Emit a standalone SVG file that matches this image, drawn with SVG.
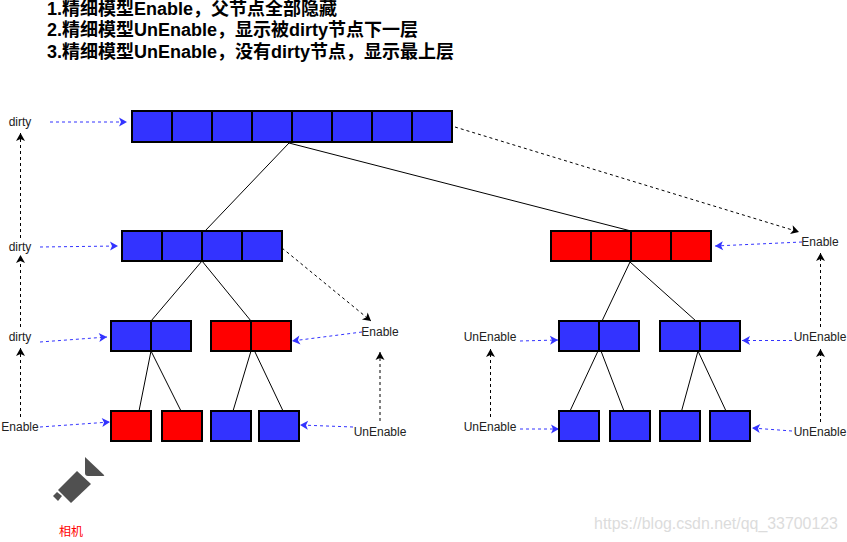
<svg xmlns="http://www.w3.org/2000/svg" width="847" height="542" viewBox="0 0 847 542">
<style>
text{font-family:"Liberation Sans","Noto Sans CJK SC",sans-serif}
.t{font-size:18px;font-weight:bold;fill:#000}
.l{font-size:12px;fill:#222;text-anchor:middle}
.b{fill:#3333ff;stroke:#000;stroke-width:2}
.r{fill:#ff0000;stroke:#000;stroke-width:2}
.e{stroke:#000;stroke-width:1;fill:none}
.k{stroke:#000;stroke-width:1;fill:none;stroke-dasharray:3 3;marker-end:url(#mk)}
.u{stroke:#3333ff;stroke-width:1;fill:none;stroke-dasharray:3 3;marker-end:url(#mb)}
</style>
<defs>
<marker id="mk" markerUnits="userSpaceOnUse" viewBox="0 0 10 10" refX="9" refY="5" markerWidth="10" markerHeight="10" orient="auto"><path d="M1 0.5L9 5L1 9.5L3 5Z" fill="#000"/></marker>
<marker id="mb" markerUnits="userSpaceOnUse" viewBox="0 0 10 10" refX="9" refY="5" markerWidth="10" markerHeight="10" orient="auto"><path d="M1 0.5L9 5L1 9.5L3 5Z" fill="#3333ff"/></marker>
</defs>
<g id="title">
<text class="t" x="47" y="15">1.精细模型Enable，父节点全部隐藏</text>
<text class="t" x="47" y="36">2.精细模型UnEnable，显示被dirty节点下一层</text>
<text class="t" x="47" y="58">3.精细模型UnEnable，没有dirty节点，显示最上层</text>
</g>
<g id="connectors">
<path class="e" d="M289 143L205 231M289 143L631 231M202 261L151 321M202 261L251 321M151 351L139 411M151 351L181 411M251 351L233 411M255 352L284 413M630 262L602 321M630 262L696 321M598 351L570 411M601 351L624 411M698 351L681 413M698 351L726 411"/>
<path class="k" d="M20.5 417V348"/>
<path class="k" d="M20.5 327V255"/>
<path class="k" d="M20.5 238V133"/>
<path class="k" d="M282 248L371 321"/>
<path class="k" d="M455 127L799 232"/>
<path class="k" d="M380 421V352"/>
<path class="k" d="M820.5 422V349"/>
<path class="k" d="M820.5 327V253"/>
<path class="k" d="M490.5 417V349"/>
<path class="u" d="M50 122H127"/>
<path class="u" d="M40 247L118 246"/>
<path class="u" d="M40 342L107 337"/>
<path class="u" d="M40 427L110 422"/>
<path class="u" d="M362 332L292 341"/>
<path class="u" d="M353 427L300 425"/>
<path class="u" d="M802 242L715 246"/>
<path class="u" d="M520 341L558 340"/>
<path class="u" d="M520 429H559"/>
<path class="u" d="M792 340.500H742"/>
<path class="u" d="M792 431L752 428"/>
</g>
<g id="node-top">
<rect class="b" x="132" y="111" width="40" height="31"/><rect class="b" x="172" y="111" width="40" height="31"/><rect class="b" x="212" y="111" width="40" height="31"/><rect class="b" x="252" y="111" width="40" height="31"/><rect class="b" x="292" y="111" width="40" height="31"/><rect class="b" x="332" y="111" width="40" height="31"/><rect class="b" x="372" y="111" width="40" height="31"/><rect class="b" x="412" y="111" width="40" height="31"/>
</g>
<g id="node-l2-left">
<rect class="b" x="122" y="231" width="40" height="30"/><rect class="b" x="162" y="231" width="40" height="30"/><rect class="b" x="202" y="231" width="40" height="30"/><rect class="b" x="242" y="231" width="40" height="30"/>
</g>
<g id="node-l2-right">
<rect class="r" x="551" y="231" width="40" height="30"/><rect class="r" x="591" y="231" width="40" height="30"/><rect class="r" x="631" y="231" width="40" height="30"/><rect class="r" x="671" y="231" width="40" height="30"/>
</g>
<g id="node-l3-a"><rect class="b" x="111" y="321" width="40" height="30"/><rect class="b" x="151" y="321" width="40" height="30"/></g>
<g id="node-l3-b"><rect class="r" x="211" y="321" width="40" height="30"/><rect class="r" x="251" y="321" width="40" height="30"/></g>
<g id="node-l3-c"><rect class="b" x="559" y="321" width="40" height="30"/><rect class="b" x="599" y="321" width="40" height="30"/></g>
<g id="node-l3-d"><rect class="b" x="660" y="321" width="40" height="30"/><rect class="b" x="700" y="321" width="40" height="30"/></g>
<g id="node-l4-a"><rect class="r" x="111" y="411" width="40" height="30"/></g>
<g id="node-l4-b"><rect class="r" x="162" y="411" width="40" height="30"/></g>
<g id="node-l4-c"><rect class="b" x="211" y="411" width="40" height="30"/></g>
<g id="node-l4-d"><rect class="b" x="259" y="411" width="40" height="30"/></g>
<g id="node-l4-e"><rect class="b" x="559" y="411" width="40" height="30"/></g>
<g id="node-l4-f"><rect class="b" x="610" y="411" width="40" height="30"/></g>
<g id="node-l4-g"><rect class="b" x="660" y="411" width="40" height="30"/></g>
<g id="node-l4-h"><rect class="b" x="710" y="411" width="40" height="30"/></g>
<g id="labels">
<text class="l" x="20" y="126">dirty</text>
<text class="l" x="20" y="251">dirty</text>
<text class="l" x="20" y="341">dirty</text>
<text class="l" x="20" y="431">Enable</text>
<text class="l" x="380" y="336">Enable</text>
<text class="l" x="380" y="436">UnEnable</text>
<text class="l" x="820" y="246">Enable</text>
<text class="l" x="820" y="341">UnEnable</text>
<text class="l" x="820" y="436">UnEnable</text>
<text class="l" x="490" y="341">UnEnable</text>
<text class="l" x="490" y="431">UnEnable</text>
</g>
<g id="camera">
<path fill="#505050" d="M85 457L104 475Q105 476 103 476H88Q85 476 85 473Z"/>
<path fill="#505050" d="M77 471L91 484L71 503L58 490Z"/>
<path fill="#505050" d="M57 492L62 496L58 501L53 496Z"/>
<text x="71" y="536" style="font-size:12px;fill:#ff0000;text-anchor:middle">相机</text>
</g>
<text x="716" y="529" style="font-size:15.900px;fill:#dcdcdc;text-anchor:middle">https://blog.csdn.net/qq_33700123</text>
</svg>
